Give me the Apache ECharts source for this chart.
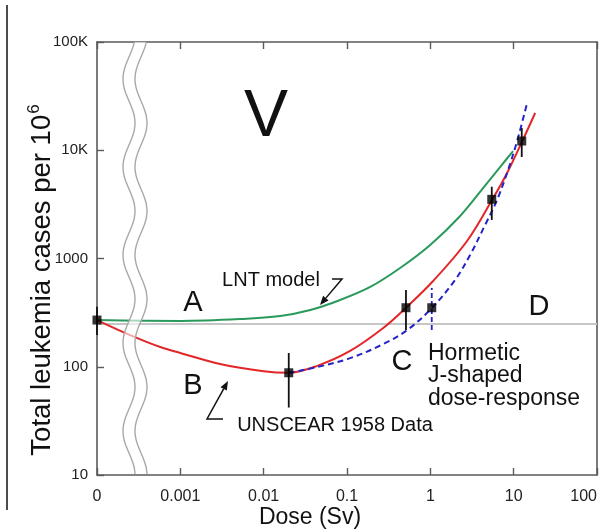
<!DOCTYPE html>
<html><head><meta charset="utf-8">
<script src="https://cdn.jsdelivr.net/npm/echarts@6/dist/echarts.min.js"></script>
<style>html,body{margin:0;padding:0;background:#fff}#c{width:604px;height:531px}</style>
</head><body><div id="c"></div>
<script>
// ---- tick labels ----
const xTickValues = [0.0001, 0.001, 0.01, 0.1, 1, 10, 100];
const xTickLabels = ['0', '0.001', '0.01', '0.1', '1', '10', '100'];
const yTickValues = [10, 100, 1000, 10000, 100000];
const yTickLabels = ['10', '100', '1000', '10K', '100K'];

// ---- baseline (natural incidence) ----
const baseDose = [0.0001, 100];
const baseCases = [248, 248];

// ---- LNT model (green) ----
const lntDose = [0.0001, 0.001, 0.00524, 0.0158, 0.0362, 0.0828, 0.19, 0.434, 0.996, 2.28, 4.8, 6.87, 9.84];
const lntCases = [270, 265, 276, 294, 334, 414, 546, 817, 1333, 2470, 4980, 7000, 9840];

// ---- fitted curve through data (red) ----
const fitDose = [0.0001, 0.00025, 0.000575, 0.001, 0.003, 0.01, 0.02, 0.044, 0.109, 0.272, 0.51, 1.08, 2.76, 5.5, 8.34, 12.6, 18.1];
const fitCases = [270, 196, 152, 134, 106, 91, 88, 102, 140, 228, 351, 620, 1452, 3470, 6170, 12000, 22080];

// ---- hormetic J-shaped curve (blue dashed) ----
const jDose = [0.02, 0.044, 0.109, 0.272, 0.527, 1.05, 1.98, 3.0, 4.54, 6.32, 8.57, 11.0, 14.5];
const jCases = [88, 99.5, 120, 162, 218, 351, 633, 1077, 2040, 3470, 6570, 12180, 27330];

// ---- UNSCEAR 1958 data points ----
const ptDose = [0.0001, 0.02, 0.51, 1.04, 5.46, 12.5];
const ptCases = [270, 88, 351, 351, 3520, 12170];
// error bars (solid black)
const errDose = [0.0001, 0.02, 0.51, 5.46, 12.5];
const errLow = [196, 42, 219, 2270, 8660];
const errHigh = [359, 134, 512, 4600, 16060];
// error bar (dashed blue)
const errJDose = [1.04];
const errJLow = [218];
const errJHigh = [534];

const zip = (a, b) => a.map((v, i) => [v, b[i]]);
const zip3 = (a, b, c) => a.map((v, i) => [v, b[i], c[i]]);

const FONT = '"Liberation Sans", Arial, Helvetica, sans-serif';
const AX = '#5a5a5a';
const chart = echarts.init(document.getElementById('c'));

function labelFrom(values, labels) {
  return v => {
    const e = Math.round(Math.log10(v));
    const i = values.findIndex(t => Math.round(Math.log10(t)) === e);
    return i >= 0 ? labels[i] : '';
  };
}

function errRender(color, dash) {
  return (params, api) => {
    const x = api.value(0);
    const p1 = api.coord([x, api.value(1)]);
    const p2 = api.coord([x, api.value(2)]);
    return {
      type: 'line',
      shape: { x1: p1[0], y1: p1[1], x2: p2[0], y2: p2[1] },
      style: { stroke: color, lineWidth: 1.8, lineDash: dash }
    };
  };
}

const gridBox = { left: 97, right: 7, top: 42, bottom: 56 };

chart.setOption({
  animation: false,
  backgroundColor: '#fff',
  grid: gridBox,
  xAxis: [{
    type: 'log', logBase: 10, min: 0.0001, max: 100, splitNumber: 6,
    axisLine: { show: true, lineStyle: { color: AX, width: 1.6 } },
    axisTick: { show: true, inside: true, length: 7, lineStyle: { color: AX, width: 1.4 } },
    splitLine: { show: false },
    axisLabel: { show: true, margin: 14, fontSize: 16, color: '#222', fontFamily: FONT,
      formatter: labelFrom(xTickValues, xTickLabels), alignMaxLabel: 'right', showMinLabel: true, showMaxLabel: true }
  }, {
    type: 'log', logBase: 10, min: 0.0001, max: 100, splitNumber: 6, position: 'top',
    axisLine: { show: true, lineStyle: { color: AX, width: 1.6 } },
    axisTick: { show: true, inside: true, length: 7, lineStyle: { color: AX, width: 1.4 } },
    splitLine: { show: false },
    axisLabel: { show: false }
  }],
  yAxis: [{
    type: 'log', logBase: 10, min: 10, max: 100000, splitNumber: 4,
    axisLine: { show: true, lineStyle: { color: AX, width: 1.6 } },
    axisTick: { show: true, inside: true, length: 7, lineStyle: { color: AX, width: 1.4 } },
    splitLine: { show: false },
    axisLabel: { show: true, margin: 9, fontSize: 15, color: '#222', fontFamily: FONT,
      formatter: labelFrom(yTickValues, yTickLabels) }
  }, {
    type: 'log', logBase: 10, min: 10, max: 100000, position: 'right',
    axisLine: { show: true, lineStyle: { color: AX, width: 1.6 } },
    axisTick: { show: false }, splitLine: { show: false }, axisLabel: { show: false }
  }],
  series: [
    { type: 'line', data: zip(baseDose, baseCases), symbol: 'none', z: 1,
      lineStyle: { color: '#c6c6c6', width: 2 } },
    { type: 'line', data: zip(lntDose, lntCases), symbol: 'none', smooth: 0.35, z: 3,
      lineStyle: { color: '#2a9a5c', width: 2 } },
    { type: 'line', data: zip(fitDose, fitCases), symbol: 'none', smooth: 0.35, z: 3,
      lineStyle: { color: '#e3262a', width: 2 } },
    { type: 'line', data: zip(jDose, jCases), symbol: 'none', smooth: 0.35, z: 4,
      lineStyle: { color: '#2424c8', width: 2, type: [6, 4] } },
    { type: 'custom', data: zip3(errDose, errLow, errHigh), renderItem: errRender('#111', null),
      encode: { x: 0, y: [1, 2] }, clip: false, z: 5 },
    { type: 'custom', data: zip3(errJDose, errJLow, errJHigh), renderItem: errRender('#2424c8', [5, 3]),
      encode: { x: 0, y: [1, 2] }, clip: false, z: 5 },
    { type: 'scatter', data: zip(ptDose, ptCases), symbol: 'rect', symbolSize: 9, clip: false, z: 6,
      itemStyle: { color: '#000' } }
  ]
});

// ---- decorations: axis break, annotations ----
function arrow(points, color) {
  const n = points.length;
  const tip = points[n - 1], prev = points[n - 2];
  const ang = Math.atan2(tip[1] - prev[1], tip[0] - prev[0]);
  const L = 9, W = 3.6;
  const bx = tip[0] - L * Math.cos(ang), by = tip[1] - L * Math.sin(ang);
  const nx = -Math.sin(ang) * W, ny = Math.cos(ang) * W;
  return [
    { type: 'polyline', z: 50, shape: { points: points.slice(0, n - 1).concat([[bx, by]]) },
      style: { stroke: color, lineWidth: 1.5, fill: null } },
    { type: 'polygon', z: 50, shape: { points: [tip, [bx + nx, by + ny], [bx - nx, by - ny]] },
      style: { fill: color } }
  ];
}

function txt(x, y, text, size, align) {
  return { type: 'text', z: 50, x: x, y: y,
    style: { text: text, font: size + 'px ' + FONT, fill: '#111', textAlign: align || 'center', textVerticalAlign: 'middle' } };
}

const plotTop = gridBox.top, plotBottom = 531 - gridBox.bottom;
const leftWave = [], rightWave = [];
for (let y = plotTop; y <= plotBottom; y += 2) {
  const dx = 6 * Math.cos(2 * Math.PI * (y - 123) / 88);
  leftWave.push([gridBox.left + 32 + dx, y]);
  rightWave.push([gridBox.left + 44 + dx, y]);
}
const band = leftWave.concat(rightWave.slice().reverse());

const graphics = [
  { type: 'line', z: 50, shape: { x1: 7, y1: 5, x2: 7, y2: 510 }, style: { stroke: '#111', lineWidth: 1.5 } },
  { type: 'polygon', z: 40, shape: { points: band }, style: { fill: 'rgba(255,255,255,0.6)' } },
  { type: 'polyline', z: 41, shape: { points: leftWave }, style: { stroke: '#a8a8a8', lineWidth: 1.4, fill: null } },
  { type: 'polyline', z: 41, shape: { points: rightWave }, style: { stroke: '#a8a8a8', lineWidth: 1.4, fill: null } },
  txt(266, 118, 'V', 66),
  txt(193, 303, 'A', 29),
  txt(193, 386, 'B', 29),
  txt(402, 362, 'C', 29),
  txt(539, 307, 'D', 29),
  txt(271, 280, 'LNT model', 20),
  txt(335, 425, 'UNSCEAR 1958 Data', 20),
  { type: 'text', z: 50, x: 428, y: 342,
    style: { text: 'Hormetic\nJ-shaped\ndose-response', font: '23px ' + FONT, fill: '#111',
      textAlign: 'left', textVerticalAlign: 'top', lineHeight: 22.5 } },
  txt(310, 518, 'Dose (Sv)', 23),
  { type: 'text', z: 50, x: 41, y: 280, rotation: Math.PI / 2,
    style: { text: '{a|Total leukemia cases per 10}{s|6}', textAlign: 'center', textVerticalAlign: 'middle',
      fill: '#111',
      rich: {
        a: { fontSize: 27.5, fontFamily: FONT, fill: '#111', lineHeight: 31, verticalAlign: 'bottom' },
        s: { fontSize: 17, fontFamily: FONT, fill: '#111', lineHeight: 31, verticalAlign: 'top', padding: [0, 0, 10, 1] }
      } } }
]
.concat(arrow([[332, 279], [342, 279], [320, 305]], '#111'))
.concat(arrow([[223, 419], [207, 419], [228, 381]], '#111'));

chart.setOption({ graphic: { elements: graphics } });
</script>
</body></html>
